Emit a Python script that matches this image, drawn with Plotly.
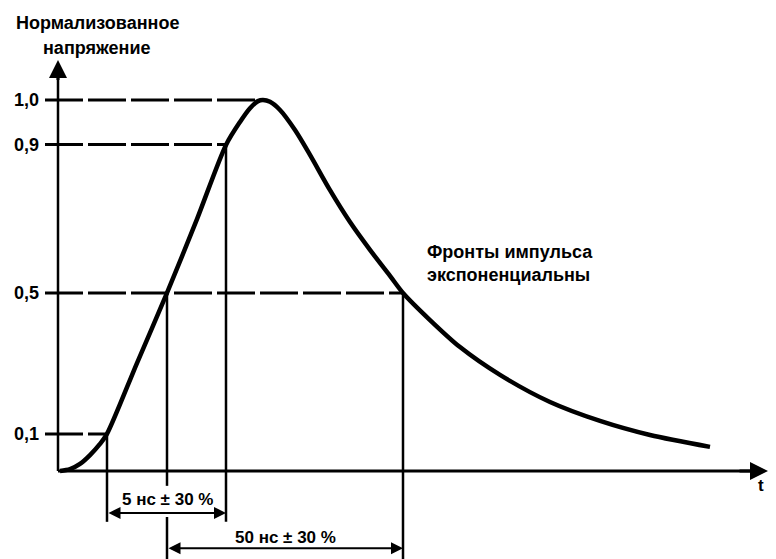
import plotly.graph_objects as go

# Pulse curve (schematic units: t in arbitrary time units, v normalised height)
t_curve = [0.2, 1.2, 2.2, 3.2, 4.2, 4.9, 7.9, 10.9, 13.9, 16.8, 18.2, 19.2, 20.0, 20.5,
           21.2, 22.2, 23.7, 25.2, 27.2, 29.2, 31.2, 33.2, 34.5, 37.2, 40.2, 44.2,
           49.2, 54.2, 59.2, 65.2]
v_curve = [0.0, 0.005, 0.019, 0.043, 0.073, 0.100, 0.291, 0.480, 0.679, 0.879, 0.941,
           0.978, 0.997, 1.0, 0.995, 0.973, 0.919, 0.852, 0.757, 0.671, 0.596, 0.526,
           0.480, 0.407, 0.334, 0.259, 0.186, 0.135, 0.097, 0.065]

# Reference levels (drawn heights) and their labels
level_pos = [0.10, 0.48, 0.88, 1.0]
level_lbl = ["0,1", "0,5", "0,9", "1,0"]
# time where each level line ends (curve crossing)
level_end = [4.9, 34.5, 16.8, 20.5]

# Crossing times for the vertical markers
t10, t50r, t90, t50f = 4.9, 10.9, 16.8, 34.5

rise_label = "5 нс ± 30 %"
width_label = "50 нс ± 30 %"
y_title = ["Нормализованное", "напряжение"]
note = ["Фронты импульса", "экспоненциальны"]
x_title = "t"

FONT = "Liberation Sans"
fig = go.Figure()

# curve
fig.add_trace(go.Scatter(x=t_curve, y=v_curve, mode="lines",
                         line=dict(color="black", width=4.5, shape="spline", smoothing=0.8),
                         hoverinfo="skip", showlegend=False))

# dashed level lines
for p, e in zip(level_pos, level_end):
    fig.add_trace(go.Scatter(x=[-1.3, e], y=[p, p], mode="lines",
                             line=dict(color="black", width=3, dash="38px,5px"),
                             hoverinfo="skip", showlegend=False))

# vertical marker lines
def vline(x, y0, y1):
    fig.add_trace(go.Scatter(x=[x, x], y=[y0, y1], mode="lines",
                             line=dict(color="black", width=2.5),
                             hoverinfo="skip", showlegend=False))

vline(t10, 0.10, -0.137)
vline(t90, 0.88, -0.137)
vline(t50r, 0.48, -0.040)
vline(t50r, -0.124, -0.25)
vline(t50f, 0.48, -0.25)

# axes lines
fig.add_trace(go.Scatter(x=[0, 70.3], y=[0, 0], mode="lines",
                         line=dict(color="black", width=3), hoverinfo="skip", showlegend=False))
fig.add_trace(go.Scatter(x=[0, 0], y=[0, 1.09], mode="lines",
                         line=dict(color="black", width=2.5), hoverinfo="skip", showlegend=False))

anns = []
# axis arrowheads
anns.append(dict(x=71.0, y=0, ax=68.0, ay=0, xref="x", yref="y", axref="x", ayref="y",
                 text="", showarrow=True, arrowhead=2, arrowsize=1.2, arrowwidth=3, arrowcolor="black"))
anns.append(dict(x=0, y=1.108, ax=0, ay=1.05, xref="x", yref="y", axref="x", ayref="y",
                 text="", showarrow=True, arrowhead=2, arrowsize=1.2, arrowwidth=3, arrowcolor="black"))
# dimension arrows
anns.append(dict(x=t90, y=-0.113, ax=t10, ay=-0.113, xref="x", yref="y", axref="x", ayref="y",
                 text="", showarrow=True, arrowhead=2, startarrowhead=2, arrowside="end+start",
                 arrowsize=1.2, startarrowsize=1.2, arrowwidth=2, arrowcolor="black"))
anns.append(dict(x=t50f, y=-0.208, ax=t50r, ay=-0.208, xref="x", yref="y", axref="x", ayref="y",
                 text="", showarrow=True, arrowhead=2, startarrowhead=2, arrowside="end+start",
                 arrowsize=1.2, startarrowsize=1.2, arrowwidth=2, arrowcolor="black"))

bold = dict(family=FONT, size=18, color="black", weight="bold")
dimf = dict(family=FONT, size=17, color="black", weight="bold")
# tick labels
for p, l in zip(level_pos, level_lbl):
    anns.append(dict(x=-1.7, y=p, xref="x", yref="y", text=l, showarrow=False,
                     xanchor="right", yanchor="middle", font=bold))
# texts
anns.append(dict(x=t50r, y=-0.076, xref="x", yref="y", text=rise_label, showarrow=False,
                 xanchor="center", yanchor="middle", font=dimf))
anns.append(dict(x=(t50r + t50f) / 2, y=-0.180, xref="x", yref="y", text=width_label, showarrow=False,
                 xanchor="center", yanchor="middle", font=dimf))
anns.append(dict(x=3.9, y=1.2075, xref="x", yref="y", text=y_title[0], showarrow=False,
                 xanchor="center", yanchor="middle", font=bold))
anns.append(dict(x=3.9, y=1.140, xref="x", yref="y", text=y_title[1], showarrow=False,
                 xanchor="center", yanchor="middle", font=bold))
anns.append(dict(x=36.7, y=0.590, xref="x", yref="y", text=note[0], showarrow=False,
                 xanchor="left", yanchor="middle", font=bold))
anns.append(dict(x=36.7, y=0.528, xref="x", yref="y", text=note[1], showarrow=False,
                 xanchor="left", yanchor="middle", font=bold))
anns.append(dict(x=70.3, y=-0.040, xref="x", yref="y", text=x_title, showarrow=False,
                 xanchor="center", yanchor="middle", font=dict(bold, size=17)))

# page body adds an 8 px offset: figure is 768x551 placed at (8, 8)
fig.update_layout(
    width=768, height=551,
    margin=dict(l=0, r=0, t=0, b=0),
    paper_bgcolor="white", plot_bgcolor="white",
    xaxis=dict(range=[-5.0, 71.8], visible=False, fixedrange=True),
    yaxis=dict(range=[-0.2372, 1.248], visible=False, fixedrange=True),
    annotations=anns,
    showlegend=False,
)

fig.write_html("out.html")
